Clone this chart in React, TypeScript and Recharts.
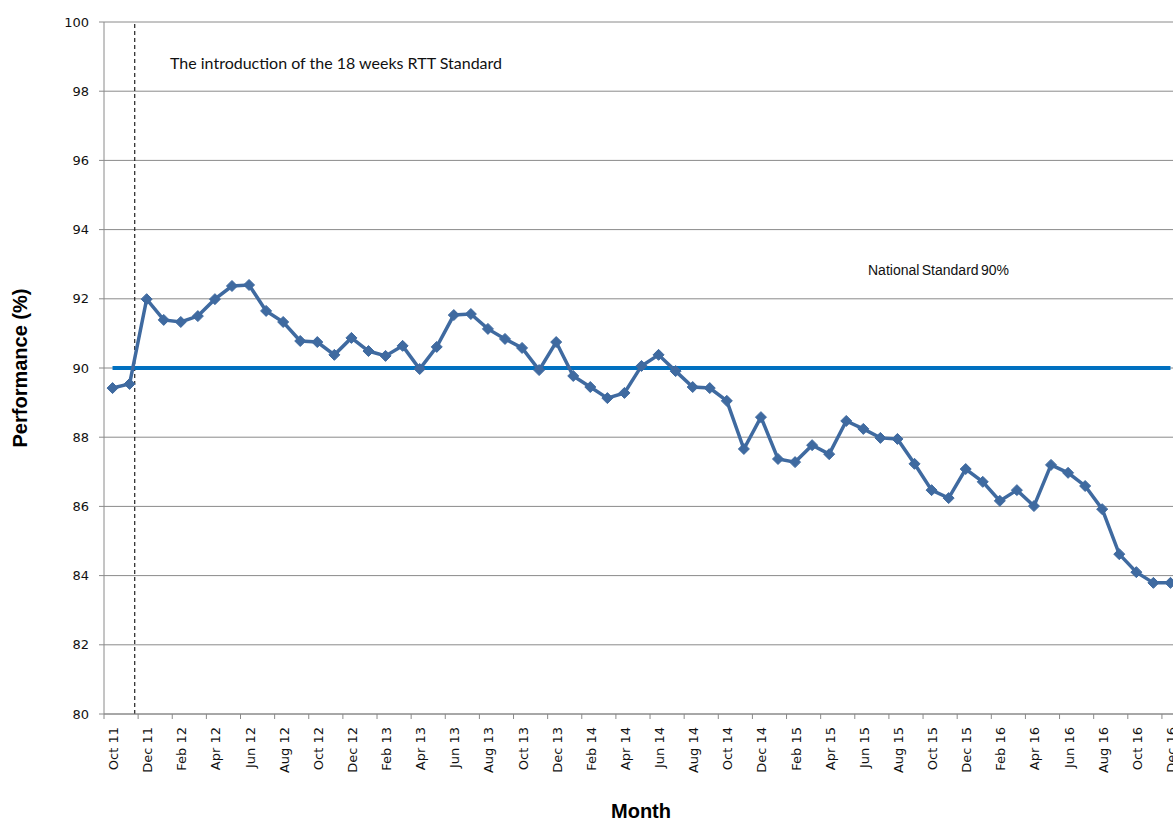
import React from 'react';
import { LineChart, Line, XAxis, YAxis, CartesianGrid, ReferenceLine } from 'recharts';

const months = [
  'Oct 11', 'Nov 11', 'Dec 11', 'Jan 12', 'Feb 12', 'Mar 12', 'Apr 12', 'May 12', 'Jun 12', 'Jul 12', 'Aug 12', 'Sep 12',
  'Oct 12', 'Nov 12', 'Dec 12', 'Jan 13', 'Feb 13', 'Mar 13', 'Apr 13', 'May 13', 'Jun 13', 'Jul 13', 'Aug 13', 'Sep 13',
  'Oct 13', 'Nov 13', 'Dec 13', 'Jan 14', 'Feb 14', 'Mar 14', 'Apr 14', 'May 14', 'Jun 14', 'Jul 14', 'Aug 14', 'Sep 14',
  'Oct 14', 'Nov 14', 'Dec 14', 'Jan 15', 'Feb 15', 'Mar 15', 'Apr 15', 'May 15', 'Jun 15', 'Jul 15', 'Aug 15', 'Sep 15',
  'Oct 15', 'Nov 15', 'Dec 15', 'Jan 16', 'Feb 16', 'Mar 16', 'Apr 16', 'May 16', 'Jun 16', 'Jul 16', 'Aug 16', 'Sep 16',
  'Oct 16', 'Nov 16', 'Dec 16',
];

const performance = [
  89.42, 89.54, 91.99, 91.39, 91.33, 91.50, 91.99, 92.37, 92.40, 91.65, 91.33, 90.78,
  90.75, 90.38, 90.87, 90.49, 90.35, 90.64, 89.97, 90.61, 91.53, 91.56, 91.13, 90.84,
  90.58, 89.94, 90.75, 89.77, 89.45, 89.13, 89.28, 90.06, 90.38, 89.91, 89.45, 89.42,
  89.05, 87.66, 88.58, 87.37, 87.28, 87.77, 87.51, 88.47, 88.24, 87.98, 87.95, 87.23,
  86.47, 86.24, 87.08, 86.71, 86.16, 86.47, 86.01, 87.20, 86.97, 86.59, 85.92, 84.62,
  84.10, 83.79, 83.79,
];

const NATIONAL_STANDARD = 90;
// position of the dashed marker, between Nov 11 and Dec 11
const INTRO_INDEX = 1.3;
const Y_TICKS = [80, 82, 84, 86, 88, 90, 92, 94, 96, 98, 100];

const data = months.map((month, i) => ({
  index: i,
  month,
  performance: performance[i],
  standard: NATIONAL_STANDARD,
}));
const xTicks = data.filter((d) => d.index % 2 === 0).map((d) => d.index);

const WIDTH = 1179;
const HEIGHT = 823;
const TOP = 22;
const Y_AXIS_W = 104;
const X_AXIS_H = 109;
const PLOT_BOTTOM = HEIGHT - X_AXIS_H;
const HALF_BAND = (WIDTH - Y_AXIS_W) / months.length / 2;
const AXIS_COLOR = '#8a8a8a';
const LINE_COLOR = '#3f6aa0';

const MonthTick = (props: any) => {
  const { x, payload } = props;
  const ty = PLOT_BOTTOM + 13;
  return (
    <g>
      <line x1={x - HALF_BAND} x2={x - HALF_BAND} y1={PLOT_BOTTOM} y2={PLOT_BOTTOM + 5} stroke={AXIS_COLOR} />
      <text
        x={x + 1}
        y={ty}
        transform={`rotate(-90 ${x + 1} ${ty})`}
        textAnchor="end"
        dominantBaseline="central"
        fontSize={13}
        fontFamily="DejaVu Sans, sans-serif"
        fill="#111"
      >
        {months[payload.value]}
      </text>
    </g>
  );
};

const Diamond = (props: any) => {
  const { cx, cy } = props;
  if (cx == null || cy == null) return null;
  const r = 5.5;
  return (
    <polygon
      points={`${cx},${cy - r} ${cx + r},${cy} ${cx},${cy + r} ${cx - r},${cy}`}
      fill={LINE_COLOR}
      stroke={LINE_COLOR}
    />
  );
};

const App = () => {
  return (
    <div style={{ position: 'absolute', left: 0, top: 0, width: 1173, height: 823, overflow: 'hidden', background: '#fff' }}>
      <LineChart width={WIDTH} height={HEIGHT} data={data} margin={{ top: TOP, right: 0, left: 0, bottom: 0 }}>
        <CartesianGrid vertical={false} stroke={AXIS_COLOR} />
        <XAxis
          type="number"
          dataKey="index"
          domain={[-0.5, months.length - 0.5]}
          ticks={xTicks}
          interval={0}
          height={X_AXIS_H}
          tick={<MonthTick />}
          tickLine={false}
          axisLine={{ stroke: AXIS_COLOR }}
        />
        <YAxis
          domain={[80, 100]}
          ticks={Y_TICKS}
          width={Y_AXIS_W}
          interval={0}
          tickSize={5}
          tickMargin={10}
          tick={{ fontSize: 13, fontFamily: 'DejaVu Sans, sans-serif', fill: '#111' }}
          tickLine={{ stroke: AXIS_COLOR }}
          axisLine={{ stroke: AXIS_COLOR }}
        />
        <ReferenceLine x={INTRO_INDEX} stroke="#222" strokeWidth={1.2} strokeDasharray="4 3" />
        <Line
          dataKey="standard"
          stroke="#0070c0"
          strokeWidth={4}
          dot={false}
          activeDot={false}
          isAnimationActive={false}
        />
        <Line
          dataKey="performance"
          stroke={LINE_COLOR}
          strokeWidth={3.5}
          dot={<Diamond />}
          activeDot={false}
          isAnimationActive={false}
        />
      </LineChart>

      <div style={{ position: 'absolute', left: 170, top: 53, fontFamily: 'Lato, sans-serif', fontSize: 16, color: '#111', whiteSpace: 'nowrap' }}>
        The introduction of the 18 weeks RTT Standard
      </div>
      <div style={{ position: 'absolute', left: 868, top: 262, fontFamily: '"Liberation Sans", Arial, sans-serif', fontSize: 14, color: '#111', whiteSpace: 'nowrap', wordSpacing: -1.5 }}>
        National Standard 90%
      </div>
      <div
        style={{
          position: 'absolute',
          left: 20,
          top: 368,
          transform: 'translate(-50%, -50%) rotate(-90deg)',
          fontFamily: '"Liberation Sans", Arial, sans-serif',
          fontWeight: 'bold',
          fontSize: 20,
          whiteSpace: 'nowrap',
        }}
      >
        Performance (%)
      </div>
      <div
        style={{
          position: 'absolute',
          left: 641,
          top: 800,
          transform: 'translateX(-50%)',
          fontFamily: '"Liberation Sans", Arial, sans-serif',
          fontWeight: 'bold',
          fontSize: 20,
          whiteSpace: 'nowrap',
        }}
      >
        Month
      </div>
    </div>
  );
};

export default App;
